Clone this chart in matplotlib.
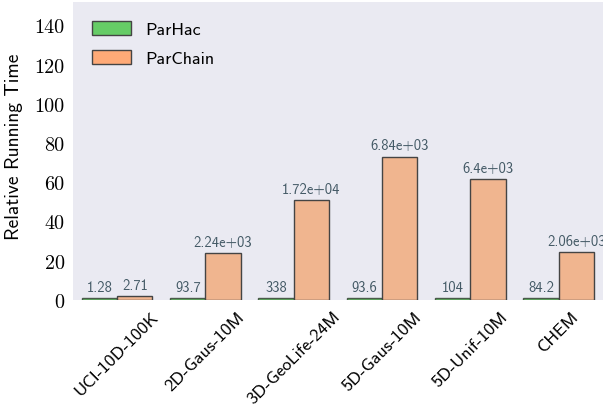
import numpy as np
import matplotlib
matplotlib.use("Agg")
import matplotlib.pyplot as plt
from matplotlib.patches import Patch

datasets = ["UCI-10D-100K", "2D-Gaus-10M", "3D-GeoLife-24M", "5D-Gaus-10M", "5D-Unif-10M", "CHEM"]
parhac_time = [1.28, 93.7, 338, 93.6, 104, 84.2]
parchain_time = [2.71, 2240, 17200, 6840, 6400, 2060]

# relative to ParHac
parhac_rel = [1.0 for _ in parhac_time]
parchain_rel = [c / h for c, h in zip(parchain_time, parhac_time)]

sans = "cmss10"
serif = "cmr10"

fig = plt.figure(figsize=(6.03, 4.06), dpi=100)
ax = fig.add_axes([0.121, 0.259, 0.879, 0.734])
ax.set_facecolor("#EAEAF2")
for s in ax.spines.values():
    s.set_visible(False)

x = np.arange(len(datasets))
w = 0.4
b1 = ax.bar(x - w / 2, parhac_rel, w, color="#66CC66", edgecolor="#4a5a4a", linewidth=1)
b2 = ax.bar(x + w / 2, parchain_rel, w, color="#F0B58F", edgecolor="#444444", linewidth=1)

for bars, labels in [(b1, parhac_time), (b2, parchain_time)]:
    for r, v in zip(bars, labels):
        ax.annotate("%.3g" % v, (r.get_x() + r.get_width() / 2, r.get_height()),
                    xytext=(0, 3), textcoords="offset points", ha="center", va="bottom",
                    fontsize=10.5, family=sans, color="#445a66", annotation_clip=False)

ax.set_xlim(-0.5, 5.5)
ax.set_ylim(0, 152)
ax.set_yticks(range(0, 141, 20))
ax.set_yticklabels([str(t) for t in range(0, 141, 20)], family=serif, fontsize=14.5)
ax.set_xticks(x)
ax.set_xticklabels(datasets, rotation=45, family=sans, fontsize=13)
ax.tick_params(length=0, pad=6)
ax.set_ylabel("Relative Running Time", family=sans, fontsize=14)
ax.yaxis.set_label_coords(-0.095, 0.517)

handles = [Patch(facecolor="#66CC66", edgecolor="#444444", label="ParHac"),
           Patch(facecolor="#FFAA77", edgecolor="#444444", label="ParChain")]
ax.legend(handles=handles, loc="upper left", frameon=False, prop={"family": sans, "size": 13},
          handlelength=2.15, handleheight=0.8, handletextpad=0.8, labelspacing=0.72,
          bbox_to_anchor=(0.0, 1.0), borderaxespad=0.65)

fig.savefig("out.png", dpi=100)
